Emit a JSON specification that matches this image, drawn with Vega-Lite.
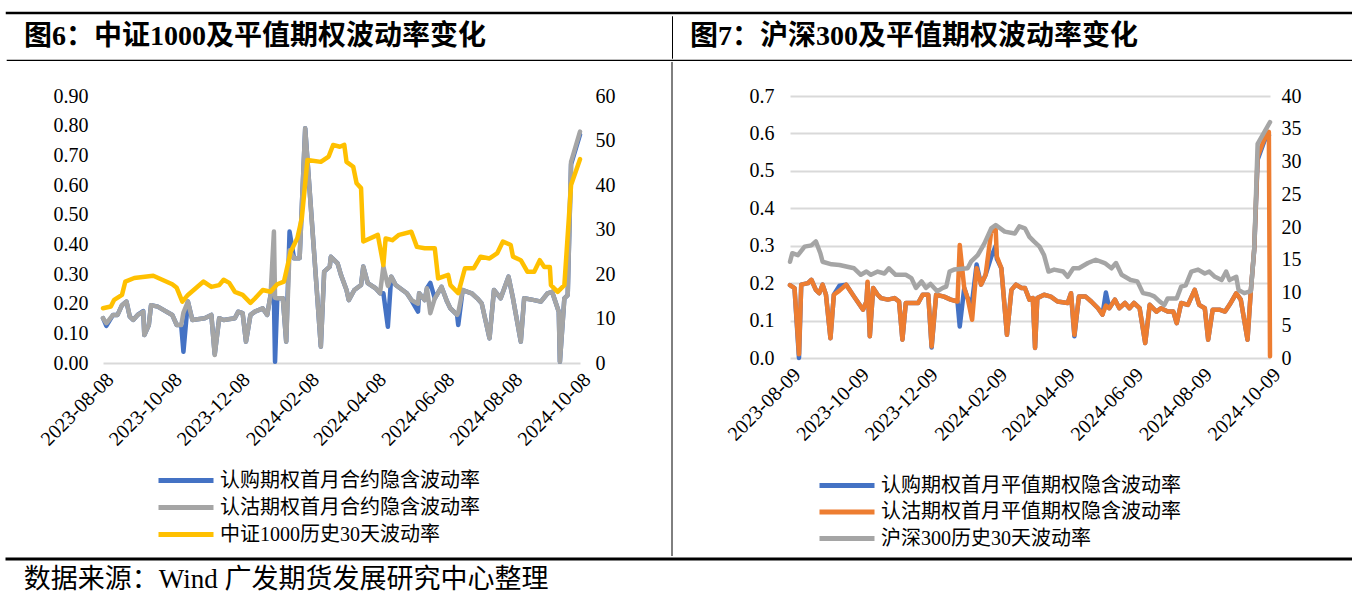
{
"$schema": "https://vega.github.io/schema/vega-lite/v6.json",
"background": "white",
"padding": {"left": 5, "top": 11, "right": 0, "bottom": 0},
"autosize": {"type": "pad"},
"config": {"view": {"stroke": null}, "font": "Liberation Serif, Noto Sans CJK SC"},
"datasets": {
"L": [
{"d":"2023-08-08","s":"h","v":12.3},{"d":"2023-08-15","s":"h","v":12.7},{"d":"2023-08-18","s":"h","v":14.2},{"d":"2023-08-25","s":"h","v":15.3},{"d":"2023-08-28","s":"h","v":18.3},{"d":"2023-09-05","s":"h","v":19.1},{"d":"2023-09-22","s":"h","v":19.6},{"d":"2023-10-09","s":"h","v":17.7},{"d":"2023-10-13","s":"h","v":16.9},{"d":"2023-10-18","s":"h","v":13.8},{"d":"2023-10-23","s":"h","v":15.3},{"d":"2023-10-30","s":"h","v":16.8},{"d":"2023-11-06","s":"h","v":18.3},{"d":"2023-11-13","s":"h","v":17.1},{"d":"2023-11-20","s":"h","v":17.5},{"d":"2023-11-24","s":"h","v":18.7},{"d":"2023-11-29","s":"h","v":18.0},{"d":"2023-12-04","s":"h","v":16.0},{"d":"2023-12-11","s":"h","v":15.3},{"d":"2023-12-18","s":"h","v":13.5},{"d":"2023-12-22","s":"h","v":14.5},{"d":"2023-12-29","s":"h","v":16.4},{"d":"2024-01-05","s":"h","v":16.0},{"d":"2024-01-11","s":"h","v":17.7},{"d":"2024-01-17","s":"h","v":18.3},{"d":"2024-01-23","s":"h","v":25.0},{"d":"2024-01-29","s":"h","v":28.1},{"d":"2024-02-02","s":"h","v":32.6},{"d":"2024-02-07","s":"h","v":45.6},{"d":"2024-02-19","s":"h","v":45.2},{"d":"2024-02-26","s":"h","v":46.4},{"d":"2024-03-01","s":"h","v":49.0},{"d":"2024-03-07","s":"h","v":48.6},{"d":"2024-03-11","s":"h","v":49.0},{"d":"2024-03-13","s":"h","v":45.2},{"d":"2024-03-19","s":"h","v":44.1},{"d":"2024-03-22","s":"h","v":40.4},{"d":"2024-03-26","s":"h","v":39.3},{"d":"2024-03-28","s":"h","v":27.3},{"d":"2024-04-10","s":"h","v":28.8},{"d":"2024-04-15","s":"h","v":22.0},{"d":"2024-04-17","s":"h","v":28.0},{"d":"2024-04-23","s":"h","v":27.6},{"d":"2024-04-29","s":"h","v":28.8},{"d":"2024-05-10","s":"h","v":29.5},{"d":"2024-05-15","s":"h","v":26.1},{"d":"2024-05-22","s":"h","v":25.8},{"d":"2024-05-31","s":"h","v":25.8},{"d":"2024-06-03","s":"h","v":19.0},{"d":"2024-06-12","s":"h","v":19.8},{"d":"2024-06-14","s":"h","v":17.5},{"d":"2024-06-21","s":"h","v":15.7},{"d":"2024-06-27","s":"h","v":21.3},{"d":"2024-07-05","s":"h","v":21.3},{"d":"2024-07-11","s":"h","v":23.9},{"d":"2024-07-19","s":"h","v":23.5},{"d":"2024-07-26","s":"h","v":24.7},{"d":"2024-07-31","s":"h","v":27.3},{"d":"2024-08-07","s":"h","v":26.5},{"d":"2024-08-09","s":"h","v":23.9},{"d":"2024-08-16","s":"h","v":23.1},{"d":"2024-08-22","s":"h","v":20.5},{"d":"2024-08-28","s":"h","v":20.5},{"d":"2024-09-02","s":"h","v":23.1},{"d":"2024-09-06","s":"h","v":21.6},{"d":"2024-09-11","s":"h","v":21.6},{"d":"2024-09-12","s":"h","v":17.5},{"d":"2024-09-18","s":"h","v":16.0},{"d":"2024-09-24","s":"h","v":17.5},{"d":"2024-09-30","s":"h","v":40.0},{"d":"2024-10-08","s":"h","v":45.8},
{"d":"2023-08-08","s":"p","v":0.151},{"d":"2023-08-11","s":"p","v":0.134},{"d":"2023-08-17","s":"p","v":0.162},{"d":"2023-08-21","s":"p","v":0.162},{"d":"2023-08-25","s":"p","v":0.195},{"d":"2023-08-29","s":"p","v":0.207},{"d":"2023-09-01","s":"p","v":0.156},{"d":"2023-09-04","s":"p","v":0.145},{"d":"2023-09-08","s":"p","v":0.162},{"d":"2023-09-13","s":"p","v":0.173},{"d":"2023-09-14","s":"p","v":0.094},{"d":"2023-09-18","s":"p","v":0.128},{"d":"2023-09-20","s":"p","v":0.195},{"d":"2023-09-26","s":"p","v":0.19},{"d":"2023-10-09","s":"p","v":0.162},{"d":"2023-10-13","s":"p","v":0.128},{"d":"2023-10-17","s":"p","v":0.128},{"d":"2023-10-19","s":"p","v":0.17},{"d":"2023-10-23","s":"p","v":0.207},{"d":"2023-10-27","s":"p","v":0.145},{"d":"2023-11-07","s":"p","v":0.151},{"d":"2023-11-13","s":"p","v":0.162},{"d":"2023-11-16","s":"p","v":0.027},{"d":"2023-11-20","s":"p","v":0.151},{"d":"2023-11-24","s":"p","v":0.145},{"d":"2023-12-04","s":"p","v":0.151},{"d":"2023-12-07","s":"p","v":0.173},{"d":"2023-12-11","s":"p","v":0.168},{"d":"2023-12-14","s":"p","v":0.072},{"d":"2023-12-18","s":"p","v":0.162},{"d":"2023-12-22","s":"p","v":0.173},{"d":"2023-12-29","s":"p","v":0.184},{"d":"2024-01-02","s":"p","v":0.162},{"d":"2024-01-05","s":"p","v":0.229},{"d":"2024-01-08","s":"p","v":0.443},{"d":"2024-01-09","s":"p","v":0.22},{"d":"2024-01-11","s":"p","v":0.218},{"d":"2024-01-16","s":"p","v":0.218},{"d":"2024-01-19","s":"p","v":0.072},{"d":"2024-01-22","s":"p","v":0.38},{"d":"2024-01-26","s":"p","v":0.353},{"d":"2024-01-31","s":"p","v":0.353},{"d":"2024-02-05","s":"p","v":0.791},{"d":"2024-02-19","s":"p","v":0.055},{"d":"2024-02-22","s":"p","v":0.308},{"d":"2024-02-27","s":"p","v":0.325},{"d":"2024-02-28","s":"p","v":0.358},{"d":"2024-03-05","s":"p","v":0.336},{"d":"2024-03-08","s":"p","v":0.297},{"d":"2024-03-13","s":"p","v":0.246},{"d":"2024-03-15","s":"p","v":0.212},{"d":"2024-03-20","s":"p","v":0.246},{"d":"2024-03-26","s":"p","v":0.263},{"d":"2024-03-28","s":"p","v":0.325},{"d":"2024-04-01","s":"p","v":0.269},{"d":"2024-04-08","s":"p","v":0.252},{"d":"2024-04-12","s":"p","v":0.235},{"d":"2024-04-15","s":"p","v":0.325},{"d":"2024-04-19","s":"p","v":0.26},{"d":"2024-04-22","s":"p","v":0.291},{"d":"2024-04-26","s":"p","v":0.263},{"d":"2024-05-06","s":"p","v":0.235},{"d":"2024-05-10","s":"p","v":0.212},{"d":"2024-05-16","s":"p","v":0.2},{"d":"2024-05-17","s":"p","v":0.235},{"d":"2024-05-22","s":"p","v":0.212},{"d":"2024-05-24","s":"p","v":0.252},{"d":"2024-05-27","s":"p","v":0.168},{"d":"2024-05-31","s":"p","v":0.218},{"d":"2024-06-06","s":"p","v":0.257},{"d":"2024-06-11","s":"p","v":0.207},{"d":"2024-06-14","s":"p","v":0.184},{"d":"2024-06-20","s":"p","v":0.162},{"d":"2024-06-21","s":"p","v":0.17},{"d":"2024-06-25","s":"p","v":0.246},{"d":"2024-07-03","s":"p","v":0.235},{"d":"2024-07-08","s":"p","v":0.218},{"d":"2024-07-12","s":"p","v":0.201},{"d":"2024-07-19","s":"p","v":0.083},{"d":"2024-07-23","s":"p","v":0.246},{"d":"2024-07-29","s":"p","v":0.218},{"d":"2024-08-05","s":"p","v":0.291},{"d":"2024-08-09","s":"p","v":0.218},{"d":"2024-08-16","s":"p","v":0.072},{"d":"2024-08-19","s":"p","v":0.218},{"d":"2024-08-28","s":"p","v":0.212},{"d":"2024-09-03","s":"p","v":0.207},{"d":"2024-09-09","s":"p","v":0.235},{"d":"2024-09-13","s":"p","v":0.24},{"d":"2024-09-19","s":"p","v":0.173},{"d":"2024-09-20","s":"p","v":0.004},{"d":"2024-09-24","s":"p","v":0.218},{"d":"2024-09-27","s":"p","v":0.229},{"d":"2024-09-30","s":"p","v":0.678},{"d":"2024-10-08","s":"p","v":0.78},
{"d":"2023-08-08","s":"c","v":0.151},{"d":"2023-08-11","s":"c","v":0.125},{"d":"2023-08-17","s":"c","v":0.162},{"d":"2023-08-21","s":"c","v":0.162},{"d":"2023-08-25","s":"c","v":0.195},{"d":"2023-08-29","s":"c","v":0.207},{"d":"2023-09-01","s":"c","v":0.156},{"d":"2023-09-04","s":"c","v":0.145},{"d":"2023-09-08","s":"c","v":0.162},{"d":"2023-09-13","s":"c","v":0.175},{"d":"2023-09-14","s":"c","v":0.094},{"d":"2023-09-18","s":"c","v":0.128},{"d":"2023-09-20","s":"c","v":0.195},{"d":"2023-09-26","s":"c","v":0.19},{"d":"2023-10-09","s":"c","v":0.162},{"d":"2023-10-13","s":"c","v":0.128},{"d":"2023-10-17","s":"c","v":0.128},{"d":"2023-10-19","s":"c","v":0.038},{"d":"2023-10-23","s":"c","v":0.207},{"d":"2023-10-27","s":"c","v":0.145},{"d":"2023-11-07","s":"c","v":0.151},{"d":"2023-11-13","s":"c","v":0.162},{"d":"2023-11-16","s":"c","v":0.03},{"d":"2023-11-20","s":"c","v":0.151},{"d":"2023-11-24","s":"c","v":0.145},{"d":"2023-12-04","s":"c","v":0.151},{"d":"2023-12-07","s":"c","v":0.173},{"d":"2023-12-11","s":"c","v":0.168},{"d":"2023-12-14","s":"c","v":0.072},{"d":"2023-12-18","s":"c","v":0.162},{"d":"2023-12-22","s":"c","v":0.173},{"d":"2023-12-29","s":"c","v":0.184},{"d":"2024-01-02","s":"c","v":0.162},{"d":"2024-01-05","s":"c","v":0.229},{"d":"2024-01-08","s":"c","v":0.22},{"d":"2024-01-09","s":"c","v":0.004},{"d":"2024-01-11","s":"c","v":0.218},{"d":"2024-01-16","s":"c","v":0.218},{"d":"2024-01-19","s":"c","v":0.072},{"d":"2024-01-22","s":"c","v":0.443},{"d":"2024-01-26","s":"c","v":0.353},{"d":"2024-01-31","s":"c","v":0.353},{"d":"2024-02-05","s":"c","v":0.791},{"d":"2024-02-19","s":"c","v":0.055},{"d":"2024-02-22","s":"c","v":0.308},{"d":"2024-02-27","s":"c","v":0.325},{"d":"2024-02-28","s":"c","v":0.358},{"d":"2024-03-05","s":"c","v":0.336},{"d":"2024-03-08","s":"c","v":0.297},{"d":"2024-03-13","s":"c","v":0.246},{"d":"2024-03-15","s":"c","v":0.212},{"d":"2024-03-20","s":"c","v":0.246},{"d":"2024-03-26","s":"c","v":0.263},{"d":"2024-03-28","s":"c","v":0.325},{"d":"2024-04-01","s":"c","v":0.269},{"d":"2024-04-08","s":"c","v":0.252},{"d":"2024-04-12","s":"c","v":0.235},{"d":"2024-04-15","s":"c","v":0.235},{"d":"2024-04-19","s":"c","v":0.122},{"d":"2024-04-22","s":"c","v":0.291},{"d":"2024-04-26","s":"c","v":0.263},{"d":"2024-05-06","s":"c","v":0.235},{"d":"2024-05-10","s":"c","v":0.212},{"d":"2024-05-16","s":"c","v":0.173},{"d":"2024-05-17","s":"c","v":0.235},{"d":"2024-05-22","s":"c","v":0.212},{"d":"2024-05-24","s":"c","v":0.252},{"d":"2024-05-27","s":"c","v":0.27},{"d":"2024-05-31","s":"c","v":0.218},{"d":"2024-06-06","s":"c","v":0.257},{"d":"2024-06-11","s":"c","v":0.207},{"d":"2024-06-14","s":"c","v":0.184},{"d":"2024-06-20","s":"c","v":0.162},{"d":"2024-06-21","s":"c","v":0.128},{"d":"2024-06-25","s":"c","v":0.246},{"d":"2024-07-03","s":"c","v":0.235},{"d":"2024-07-08","s":"c","v":0.218},{"d":"2024-07-12","s":"c","v":0.201},{"d":"2024-07-19","s":"c","v":0.083},{"d":"2024-07-23","s":"c","v":0.246},{"d":"2024-07-29","s":"c","v":0.218},{"d":"2024-08-05","s":"c","v":0.291},{"d":"2024-08-09","s":"c","v":0.218},{"d":"2024-08-16","s":"c","v":0.072},{"d":"2024-08-19","s":"c","v":0.218},{"d":"2024-08-28","s":"c","v":0.212},{"d":"2024-09-03","s":"c","v":0.207},{"d":"2024-09-09","s":"c","v":0.235},{"d":"2024-09-13","s":"c","v":0.24},{"d":"2024-09-19","s":"c","v":0.173},{"d":"2024-09-20","s":"c","v":0.004},{"d":"2024-09-24","s":"c","v":0.218},{"d":"2024-09-27","s":"c","v":0.229},{"d":"2024-09-30","s":"c","v":0.67},{"d":"2024-10-08","s":"c","v":0.77}
],
"R": [
{"d":"2023-08-09","s":"h","v":14.7},{"d":"2023-08-11","s":"h","v":16.0},{"d":"2023-08-16","s":"h","v":15.7},{"d":"2023-08-22","s":"h","v":17.0},{"d":"2023-08-28","s":"h","v":17.2},{"d":"2023-09-01","s":"h","v":17.8},{"d":"2023-09-05","s":"h","v":16.0},{"d":"2023-09-07","s":"h","v":14.7},{"d":"2023-09-15","s":"h","v":14.3},{"d":"2023-09-22","s":"h","v":14.2},{"d":"2023-10-05","s":"h","v":13.7},{"d":"2023-10-11","s":"h","v":12.7},{"d":"2023-10-16","s":"h","v":13.2},{"d":"2023-10-20","s":"h","v":12.7},{"d":"2023-10-26","s":"h","v":13.2},{"d":"2023-11-01","s":"h","v":12.9},{"d":"2023-11-05","s":"h","v":13.7},{"d":"2023-11-11","s":"h","v":12.7},{"d":"2023-11-20","s":"h","v":12.7},{"d":"2023-11-25","s":"h","v":12.2},{"d":"2023-11-29","s":"h","v":10.7},{"d":"2023-12-04","s":"h","v":11.7},{"d":"2023-12-08","s":"h","v":10.7},{"d":"2023-12-12","s":"h","v":11.3},{"d":"2023-12-18","s":"h","v":10.2},{"d":"2023-12-23","s":"h","v":10.7},{"d":"2023-12-26","s":"h","v":10.9},{"d":"2023-12-29","s":"h","v":13.2},{"d":"2024-01-02","s":"h","v":13.5},{"d":"2024-01-14","s":"h","v":13.7},{"d":"2024-01-17","s":"h","v":14.7},{"d":"2024-01-23","s":"h","v":15.7},{"d":"2024-01-29","s":"h","v":17.5},{"d":"2024-02-04","s":"h","v":19.8},{"d":"2024-02-08","s":"h","v":20.3},{"d":"2024-02-16","s":"h","v":19.3},{"d":"2024-02-25","s":"h","v":19.0},{"d":"2024-02-29","s":"h","v":20.1},{"d":"2024-03-05","s":"h","v":19.8},{"d":"2024-03-09","s":"h","v":18.5},{"d":"2024-03-13","s":"h","v":17.8},{"d":"2024-03-18","s":"h","v":17.0},{"d":"2024-03-22","s":"h","v":15.7},{"d":"2024-03-26","s":"h","v":13.2},{"d":"2024-03-31","s":"h","v":13.5},{"d":"2024-04-08","s":"h","v":13.2},{"d":"2024-04-12","s":"h","v":12.4},{"d":"2024-04-17","s":"h","v":13.7},{"d":"2024-04-22","s":"h","v":13.7},{"d":"2024-04-30","s":"h","v":14.5},{"d":"2024-05-07","s":"h","v":15.0},{"d":"2024-05-15","s":"h","v":14.5},{"d":"2024-05-21","s":"h","v":13.7},{"d":"2024-05-25","s":"h","v":14.5},{"d":"2024-05-30","s":"h","v":12.7},{"d":"2024-06-07","s":"h","v":11.9},{"d":"2024-06-13","s":"h","v":11.7},{"d":"2024-06-18","s":"h","v":9.9},{"d":"2024-06-24","s":"h","v":9.7},{"d":"2024-06-28","s":"h","v":9.4},{"d":"2024-07-03","s":"h","v":8.6},{"d":"2024-07-07","s":"h","v":8.1},{"d":"2024-07-10","s":"h","v":9.1},{"d":"2024-07-18","s":"h","v":9.1},{"d":"2024-07-22","s":"h","v":10.9},{"d":"2024-07-26","s":"h","v":11.1},{"d":"2024-07-31","s":"h","v":13.2},{"d":"2024-08-06","s":"h","v":13.5},{"d":"2024-08-12","s":"h","v":12.9},{"d":"2024-08-16","s":"h","v":13.2},{"d":"2024-08-21","s":"h","v":12.4},{"d":"2024-08-27","s":"h","v":11.9},{"d":"2024-08-31","s":"h","v":13.2},{"d":"2024-09-03","s":"h","v":11.9},{"d":"2024-09-09","s":"h","v":12.4},{"d":"2024-09-11","s":"h","v":10.4},{"d":"2024-09-16","s":"h","v":9.9},{"d":"2024-09-22","s":"h","v":10.2},{"d":"2024-09-25","s":"h","v":16.8},{"d":"2024-09-28","s":"h","v":32.7},{"d":"2024-10-09","s":"h","v":36.0},
{"d":"2023-08-09","s":"p","v":0.195},{"d":"2023-08-13","s":"p","v":0.187},{"d":"2023-08-17","s":"p","v":0.01},{"d":"2023-08-19","s":"p","v":0.196},{"d":"2023-08-25","s":"p","v":0.2},{"d":"2023-08-28","s":"p","v":0.209},{"d":"2023-09-01","s":"p","v":0.182},{"d":"2023-09-04","s":"p","v":0.173},{"d":"2023-09-07","s":"p","v":0.196},{"d":"2023-09-10","s":"p","v":0.169},{"d":"2023-09-14","s":"p","v":0.053},{"d":"2023-09-17","s":"p","v":0.169},{"d":"2023-09-22","s":"p","v":0.18},{"d":"2023-09-28","s":"p","v":0.196},{"d":"2023-10-05","s":"p","v":0.164},{"d":"2023-10-13","s":"p","v":0.129},{"d":"2023-10-16","s":"p","v":0.151},{"d":"2023-10-17","s":"p","v":0.204},{"d":"2023-10-19","s":"p","v":0.058},{"d":"2023-10-22","s":"p","v":0.187},{"d":"2023-10-26","s":"p","v":0.169},{"d":"2023-10-29","s":"p","v":0.16},{"d":"2023-11-04","s":"p","v":0.156},{"d":"2023-11-10","s":"p","v":0.16},{"d":"2023-11-14","s":"p","v":0.151},{"d":"2023-11-17","s":"p","v":0.049},{"d":"2023-11-20","s":"p","v":0.147},{"d":"2023-12-01","s":"p","v":0.147},{"d":"2023-12-05","s":"p","v":0.169},{"d":"2023-12-10","s":"p","v":0.169},{"d":"2023-12-13","s":"p","v":0.031},{"d":"2023-12-17","s":"p","v":0.169},{"d":"2023-12-24","s":"p","v":0.164},{"d":"2023-12-30","s":"p","v":0.156},{"d":"2024-01-05","s":"p","v":0.151},{"d":"2024-01-07","s":"p","v":0.302},{"d":"2024-01-11","s":"p","v":0.187},{"d":"2024-01-14","s":"p","v":0.16},{"d":"2024-01-18","s":"p","v":0.102},{"d":"2024-01-22","s":"p","v":0.24},{"d":"2024-01-26","s":"p","v":0.196},{"d":"2024-01-30","s":"p","v":0.222},{"d":"2024-02-04","s":"p","v":0.338},{"d":"2024-02-08","s":"p","v":0.342},{"d":"2024-02-09","s":"p","v":0.271},{"d":"2024-02-13","s":"p","v":0.24},{"d":"2024-02-18","s":"p","v":0.062},{"d":"2024-02-22","s":"p","v":0.182},{"d":"2024-02-26","s":"p","v":0.196},{"d":"2024-03-02","s":"p","v":0.187},{"d":"2024-03-05","s":"p","v":0.187},{"d":"2024-03-09","s":"p","v":0.156},{"d":"2024-03-12","s":"p","v":0.16},{"d":"2024-03-14","s":"p","v":0.027},{"d":"2024-03-16","s":"p","v":0.16},{"d":"2024-03-22","s":"p","v":0.169},{"d":"2024-03-28","s":"p","v":0.164},{"d":"2024-04-03","s":"p","v":0.151},{"d":"2024-04-12","s":"p","v":0.147},{"d":"2024-04-15","s":"p","v":0.173},{"d":"2024-04-18","s":"p","v":0.062},{"d":"2024-04-22","s":"p","v":0.164},{"d":"2024-04-28","s":"p","v":0.164},{"d":"2024-05-03","s":"p","v":0.151},{"d":"2024-05-09","s":"p","v":0.133},{"d":"2024-05-13","s":"p","v":0.116},{"d":"2024-05-16","s":"p","v":0.14},{"d":"2024-05-19","s":"p","v":0.133},{"d":"2024-05-24","s":"p","v":0.156},{"d":"2024-05-28","s":"p","v":0.133},{"d":"2024-06-02","s":"p","v":0.147},{"d":"2024-06-06","s":"p","v":0.133},{"d":"2024-06-10","s":"p","v":0.147},{"d":"2024-06-15","s":"p","v":0.133},{"d":"2024-06-20","s":"p","v":0.04},{"d":"2024-06-24","s":"p","v":0.142},{"d":"2024-06-30","s":"p","v":0.124},{"d":"2024-07-04","s":"p","v":0.133},{"d":"2024-07-10","s":"p","v":0.124},{"d":"2024-07-15","s":"p","v":0.124},{"d":"2024-07-18","s":"p","v":0.093},{"d":"2024-07-22","s":"p","v":0.147},{"d":"2024-07-28","s":"p","v":0.142},{"d":"2024-08-03","s":"p","v":0.182},{"d":"2024-08-07","s":"p","v":0.142},{"d":"2024-08-12","s":"p","v":0.133},{"d":"2024-08-15","s":"p","v":0.049},{"d":"2024-08-19","s":"p","v":0.129},{"d":"2024-08-25","s":"p","v":0.129},{"d":"2024-08-30","s":"p","v":0.124},{"d":"2024-09-03","s":"p","v":0.142},{"d":"2024-09-09","s":"p","v":0.173},{"d":"2024-09-13","s":"p","v":0.156},{"d":"2024-09-19","s":"p","v":0.049},{"d":"2024-09-22","s":"p","v":0.182},{"d":"2024-09-25","s":"p","v":0.293},{"d":"2024-09-28","s":"p","v":0.538},{"d":"2024-10-04","s":"p","v":0.586},{"d":"2024-10-08","s":"p","v":0.604},{"d":"2024-10-09","s":"p","v":0.005},
{"d":"2023-08-09","s":"c","v":0.195},{"d":"2023-08-13","s":"c","v":0.187},{"d":"2023-08-17","s":"c","v":0.0},{"d":"2023-08-19","s":"c","v":0.196},{"d":"2023-08-25","s":"c","v":0.2},{"d":"2023-08-28","s":"c","v":0.209},{"d":"2023-09-01","s":"c","v":0.182},{"d":"2023-09-04","s":"c","v":0.173},{"d":"2023-09-07","s":"c","v":0.196},{"d":"2023-09-10","s":"c","v":0.169},{"d":"2023-09-14","s":"c","v":0.053},{"d":"2023-09-17","s":"c","v":0.169},{"d":"2023-09-22","s":"c","v":0.193},{"d":"2023-09-28","s":"c","v":0.196},{"d":"2023-10-05","s":"c","v":0.164},{"d":"2023-10-13","s":"c","v":0.129},{"d":"2023-10-16","s":"c","v":0.151},{"d":"2023-10-17","s":"c","v":0.2},{"d":"2023-10-19","s":"c","v":0.058},{"d":"2023-10-22","s":"c","v":0.187},{"d":"2023-10-26","s":"c","v":0.169},{"d":"2023-10-29","s":"c","v":0.16},{"d":"2023-11-04","s":"c","v":0.156},{"d":"2023-11-10","s":"c","v":0.16},{"d":"2023-11-14","s":"c","v":0.151},{"d":"2023-11-17","s":"c","v":0.049},{"d":"2023-11-20","s":"c","v":0.147},{"d":"2023-12-01","s":"c","v":0.147},{"d":"2023-12-05","s":"c","v":0.169},{"d":"2023-12-10","s":"c","v":0.169},{"d":"2023-12-13","s":"c","v":0.028},{"d":"2023-12-17","s":"c","v":0.169},{"d":"2023-12-24","s":"c","v":0.164},{"d":"2023-12-30","s":"c","v":0.156},{"d":"2024-01-05","s":"c","v":0.151},{"d":"2024-01-07","s":"c","v":0.084},{"d":"2024-01-11","s":"c","v":0.187},{"d":"2024-01-14","s":"c","v":0.16},{"d":"2024-01-18","s":"c","v":0.15},{"d":"2024-01-22","s":"c","v":0.25},{"d":"2024-01-26","s":"c","v":0.196},{"d":"2024-01-30","s":"c","v":0.222},{"d":"2024-02-04","s":"c","v":0.27},{"d":"2024-02-08","s":"c","v":0.3},{"d":"2024-02-09","s":"c","v":0.265},{"d":"2024-02-13","s":"c","v":0.24},{"d":"2024-02-18","s":"c","v":0.062},{"d":"2024-02-22","s":"c","v":0.182},{"d":"2024-02-26","s":"c","v":0.196},{"d":"2024-03-02","s":"c","v":0.187},{"d":"2024-03-05","s":"c","v":0.187},{"d":"2024-03-09","s":"c","v":0.156},{"d":"2024-03-12","s":"c","v":0.16},{"d":"2024-03-14","s":"c","v":0.027},{"d":"2024-03-16","s":"c","v":0.16},{"d":"2024-03-22","s":"c","v":0.169},{"d":"2024-03-28","s":"c","v":0.164},{"d":"2024-04-03","s":"c","v":0.151},{"d":"2024-04-12","s":"c","v":0.147},{"d":"2024-04-15","s":"c","v":0.173},{"d":"2024-04-18","s":"c","v":0.058},{"d":"2024-04-22","s":"c","v":0.164},{"d":"2024-04-28","s":"c","v":0.164},{"d":"2024-05-03","s":"c","v":0.151},{"d":"2024-05-09","s":"c","v":0.133},{"d":"2024-05-13","s":"c","v":0.116},{"d":"2024-05-16","s":"c","v":0.175},{"d":"2024-05-19","s":"c","v":0.133},{"d":"2024-05-24","s":"c","v":0.156},{"d":"2024-05-28","s":"c","v":0.133},{"d":"2024-06-02","s":"c","v":0.147},{"d":"2024-06-06","s":"c","v":0.133},{"d":"2024-06-10","s":"c","v":0.147},{"d":"2024-06-15","s":"c","v":0.133},{"d":"2024-06-20","s":"c","v":0.04},{"d":"2024-06-24","s":"c","v":0.142},{"d":"2024-06-30","s":"c","v":0.124},{"d":"2024-07-04","s":"c","v":0.133},{"d":"2024-07-10","s":"c","v":0.124},{"d":"2024-07-15","s":"c","v":0.124},{"d":"2024-07-18","s":"c","v":0.093},{"d":"2024-07-22","s":"c","v":0.147},{"d":"2024-07-28","s":"c","v":0.142},{"d":"2024-08-03","s":"c","v":0.182},{"d":"2024-08-07","s":"c","v":0.142},{"d":"2024-08-12","s":"c","v":0.133},{"d":"2024-08-15","s":"c","v":0.049},{"d":"2024-08-19","s":"c","v":0.129},{"d":"2024-08-25","s":"c","v":0.129},{"d":"2024-08-30","s":"c","v":0.124},{"d":"2024-09-03","s":"c","v":0.142},{"d":"2024-09-09","s":"c","v":0.173},{"d":"2024-09-13","s":"c","v":0.156},{"d":"2024-09-19","s":"c","v":0.049},{"d":"2024-09-22","s":"c","v":0.182},{"d":"2024-09-25","s":"c","v":0.29},{"d":"2024-09-28","s":"c","v":0.53},{"d":"2024-10-04","s":"c","v":0.58},{"d":"2024-10-08","s":"c","v":0.595}
]
},
"spacing": 0,
"resolve": {"scale": {"color": "independent"}, "legend": {"color": "independent"}},
"vconcat": [
{"width":1345,"height":0.01,"data":{"values":[]},"mark":"point","encoding":{},"view":{"stroke":"#000000","strokeWidth":2.5}},
{"spacing": 0, "hconcat": [
 {"width":664,"height":42,"data":{"values":[{"t":"图6：中证1000及平值期权波动率变化"}]},"mark":{"type":"text","align":"left","baseline":"middle","fontSize":28,"fontWeight":"bold","color":"#000000","font":"Liberation Serif, Noto Sans CJK SC"},"encoding":{"text":{"field":"t"},"x":{"datum":0.0256,"type":"quantitative","scale":{"domain":[0,1]},"axis":null},"y":{"datum":0.5,"type":"quantitative","scale":{"domain":[0,1]},"axis":null}}},
 {"width":0.01,"height":42,"data":{"values":[]},"mark":"point","encoding":{},"view":{"stroke":"#000000","strokeWidth":1}},
 {"width":680,"height":42,"data":{"values":[{"t":"图7：沪深300及平值期权波动率变化"}]},"mark":{"type":"text","align":"left","baseline":"middle","fontSize":28,"fontWeight":"bold","color":"#000000","font":"Liberation Serif, Noto Sans CJK SC"},"encoding":{"text":{"field":"t"},"x":{"datum":0.025,"type":"quantitative","scale":{"domain":[0,1]},"axis":null},"y":{"datum":0.5,"type":"quantitative","scale":{"domain":[0,1]},"axis":null}}}
]},
{"width":1345,"height":0.01,"data":{"values":[]},"mark":"point","encoding":{},"view":{"stroke":"#000000","strokeWidth":1.2}},
{"spacing": 29, "align": "none", "resolve": {"scale": {"color": "independent"}, "legend": {"color": "independent"}}, "hconcat": [
 {"width":0.01,"height":0.01,"data":{"values":[]},"mark":"point","encoding":{}},
 {"spacing": 56, "align": "none", "resolve": {"scale": {"color": "independent"}, "legend": {"color": "independent"}}, "hconcat": [
  {
   "width": 477, "height": 267,
   "title": {"text": " ", "fontSize": 6, "offset": 15.5},
   "data": {"name": "L"},
   "encoding": {
    "x": {"field": "d", "type": "temporal", "scale": {"type": "utc", "domain": [{"year":2023,"month":8,"date":8,"utc":true},{"year":2024,"month":10,"date":8,"utc":true}]},
          "axis": {"values": [{"year":2023,"month":8,"date":8,"utc":true},{"year":2023,"month":10,"date":8,"utc":true},{"year":2023,"month":12,"date":8,"utc":true},{"year":2024,"month":2,"date":8,"utc":true},{"year":2024,"month":4,"date":8,"utc":true},{"year":2024,"month":6,"date":8,"utc":true},{"year":2024,"month":8,"date":8,"utc":true},{"year":2024,"month":10,"date":8,"utc":true}],
                   "labelExpr": "utcFormat(datum.value, '%Y-%m-%d')", "labelAngle": -45, "labelFontSize": 20, "labelFont": "Liberation Serif", "labelColor": "#000000", "ticks": false, "domain": true, "domainColor": "#d9d9d9", "domainWidth": 2, "grid": false, "title": null, "labelPadding": 6, "labelOverlap": false, "labelFlush": false, "labelBound": false}},
    "color": {"field": "s", "type": "nominal", "scale": {"domain": ["c","p","h"], "range": ["#4472C4","#A5A5A5","#FFC000"]},
              "legend": {"orient": "none", "legendX": 69.5, "legendY": 371, "direction": "vertical", "title": null, "padding": 0,
                         "symbolType": "M-2.5,0H2.5", "symbolSize": 484, "symbolStrokeWidth": 5, "labelFontSize": 20, "labelFont": "Liberation Serif, Noto Sans CJK SC", "labelColor": "#000000", "labelOffset": 20.5, "rowPadding": 3, "labelLimit": 600,
                         "labelExpr": "datum.label == 'c' ? '认购期权首月合约隐含波动率' : datum.label == 'p' ? '认沽期权首月合约隐含波动率' : '中证1000历史30天波动率'"}}
   },
   "layer": [
    {"encoding": {"y": {"field": "v", "type": "quantitative", "scale": {"domain": [0, 0.9]}, "axis": {"values": [0,0.1,0.2,0.3,0.4,0.5,0.6,0.7,0.8,0.9], "format": ".2f", "labelFontSize": 20, "labelFont": "Liberation Serif", "labelColor": "#000000", "ticks": false, "domain": false, "grid": false, "title": null, "labelPadding": 15}}},
     "layer": [
      {"transform": [{"filter": "datum.s === 'c'"}], "mark": {"type": "line", "strokeWidth": 4.5, "strokeJoin": "round", "strokeCap": "round"}},
      {"transform": [{"filter": "datum.s === 'p'"}], "mark": {"type": "line", "strokeWidth": 4.5, "strokeJoin": "round", "strokeCap": "round"}}
     ]},
    {"transform": [{"filter": "datum.s === 'h'"}], "mark": {"type": "line", "strokeWidth": 4.5, "strokeJoin": "round", "strokeCap": "round"},
     "encoding": {"y": {"field": "v", "type": "quantitative", "scale": {"domain": [0, 60]}, "axis": {"orient": "right", "values": [0,10,20,30,40,50,60], "format": "d", "labelFontSize": 20, "labelFont": "Liberation Serif", "labelColor": "#000000", "ticks": false, "domain": false, "grid": false, "title": null, "labelPadding": 15}}}}
   ],
   "resolve": {"scale": {"y": "independent"}}
  },
  {"spacing": 51, "align": "none", "resolve": {"scale": {"color": "independent"}, "legend": {"color": "independent"}}, "hconcat": [
   {"width":0.01,"height":460,"data":{"values":[{}]},"mark":{"type":"rule","clip":false,"color":"#000000","strokeWidth":1},
    "encoding":{"x":{"datum":0,"type":"quantitative","scale":{"domain":[0,1]},"axis":null},"y":{"datum":0,"type":"quantitative","scale":{"domain":[0,1]},"axis":null},"y2":{"datum":1.074}}},
   {
    "width": 480, "height": 262,
    "title": {"text": " ", "fontSize": 6, "offset": 15.5},
    "data": {"name": "R"},
    "encoding": {
     "x": {"field": "d", "type": "temporal", "scale": {"type": "utc", "domain": [{"year":2023,"month":8,"date":9,"utc":true},{"year":2024,"month":10,"date":9,"utc":true}]},
           "axis": {"values": [{"year":2023,"month":8,"date":9,"utc":true},{"year":2023,"month":10,"date":9,"utc":true},{"year":2023,"month":12,"date":9,"utc":true},{"year":2024,"month":2,"date":9,"utc":true},{"year":2024,"month":4,"date":9,"utc":true},{"year":2024,"month":6,"date":9,"utc":true},{"year":2024,"month":8,"date":9,"utc":true},{"year":2024,"month":10,"date":9,"utc":true}],
                    "labelExpr": "utcFormat(datum.value, '%Y-%m-%d')", "labelAngle": -45, "labelFontSize": 20, "labelFont": "Liberation Serif", "labelColor": "#000000", "ticks": false, "domain": false, "grid": false, "title": null, "labelPadding": 6, "labelOverlap": false, "labelFlush": false, "labelBound": false}},
     "color": {"field": "s", "type": "nominal", "scale": {"domain": ["c","p","h"], "range": ["#4472C4","#ED7D31","#A5A5A5"]},
               "legend": {"orient": "none", "legendX": 43.5, "legendY": 376, "direction": "vertical", "title": null, "padding": 0,
                          "symbolType": "M-2.5,0H2.5", "symbolSize": 484, "symbolStrokeWidth": 5, "labelFontSize": 20, "labelFont": "Liberation Serif, Noto Sans CJK SC", "labelColor": "#000000", "labelOffset": 20.5, "rowPadding": 2.5, "labelLimit": 600,
                          "labelExpr": "datum.label == 'c' ? '认购期权首月平值期权隐含波动率' : datum.label == 'p' ? '认沽期权首月平值期权隐含波动率' : '沪深300历史30天波动率'"}}
    },
    "layer": [
     {"encoding": {"y": {"field": "v", "type": "quantitative", "scale": {"domain": [0, 0.7]}, "axis": {"values": [0,0.1,0.2,0.3,0.4,0.5,0.6,0.7], "format": ".1f", "labelFontSize": 20, "labelFont": "Liberation Serif", "labelColor": "#000000", "ticks": false, "domain": false, "grid": true, "gridColor": "#d9d9d9", "gridWidth": 2, "title": null, "labelPadding": 16}}},
      "layer": [
       {"transform": [{"filter": "datum.s === 'c'"}], "mark": {"type": "line", "strokeWidth": 4.5, "strokeJoin": "round", "strokeCap": "round"}},
       {"transform": [{"filter": "datum.s === 'p'"}], "mark": {"type": "line", "strokeWidth": 4.5, "strokeJoin": "round", "strokeCap": "round"}}
      ]},
     {"transform": [{"filter": "datum.s === 'h'"}], "mark": {"type": "line", "strokeWidth": 4.5, "strokeJoin": "round", "strokeCap": "round"},
      "encoding": {"y": {"field": "v", "type": "quantitative", "scale": {"domain": [0, 40]}, "axis": {"orient": "right", "values": [0,5,10,15,20,25,30,35,40], "format": "d", "labelFontSize": 20, "labelFont": "Liberation Serif", "labelColor": "#000000", "ticks": false, "domain": false, "grid": false, "title": null, "labelPadding": 11}}}}
    ],
    "resolve": {"scale": {"y": "independent"}}
   }
  ]}
 ]}
]},
{"width":1345,"height":0.01,"data":{"values":[]},"mark":"point","encoding":{},"view":{"stroke":"#000000","strokeWidth":3}},
{"width":600,"height":38,"data":{"values":[{"t":"数据来源：Wind 广发期货发展研究中心整理"}]},"mark":{"type":"text","align":"left","baseline":"middle","fontSize":27,"color":"#000000","font":"Liberation Serif, Noto Sans CJK SC"},"encoding":{"text":{"field":"t"},"x":{"datum":0.028,"type":"quantitative","scale":{"domain":[0,1]},"axis":null},"y":{"datum":0.5,"type":"quantitative","scale":{"domain":[0,1]},"axis":null}}}
]
}
